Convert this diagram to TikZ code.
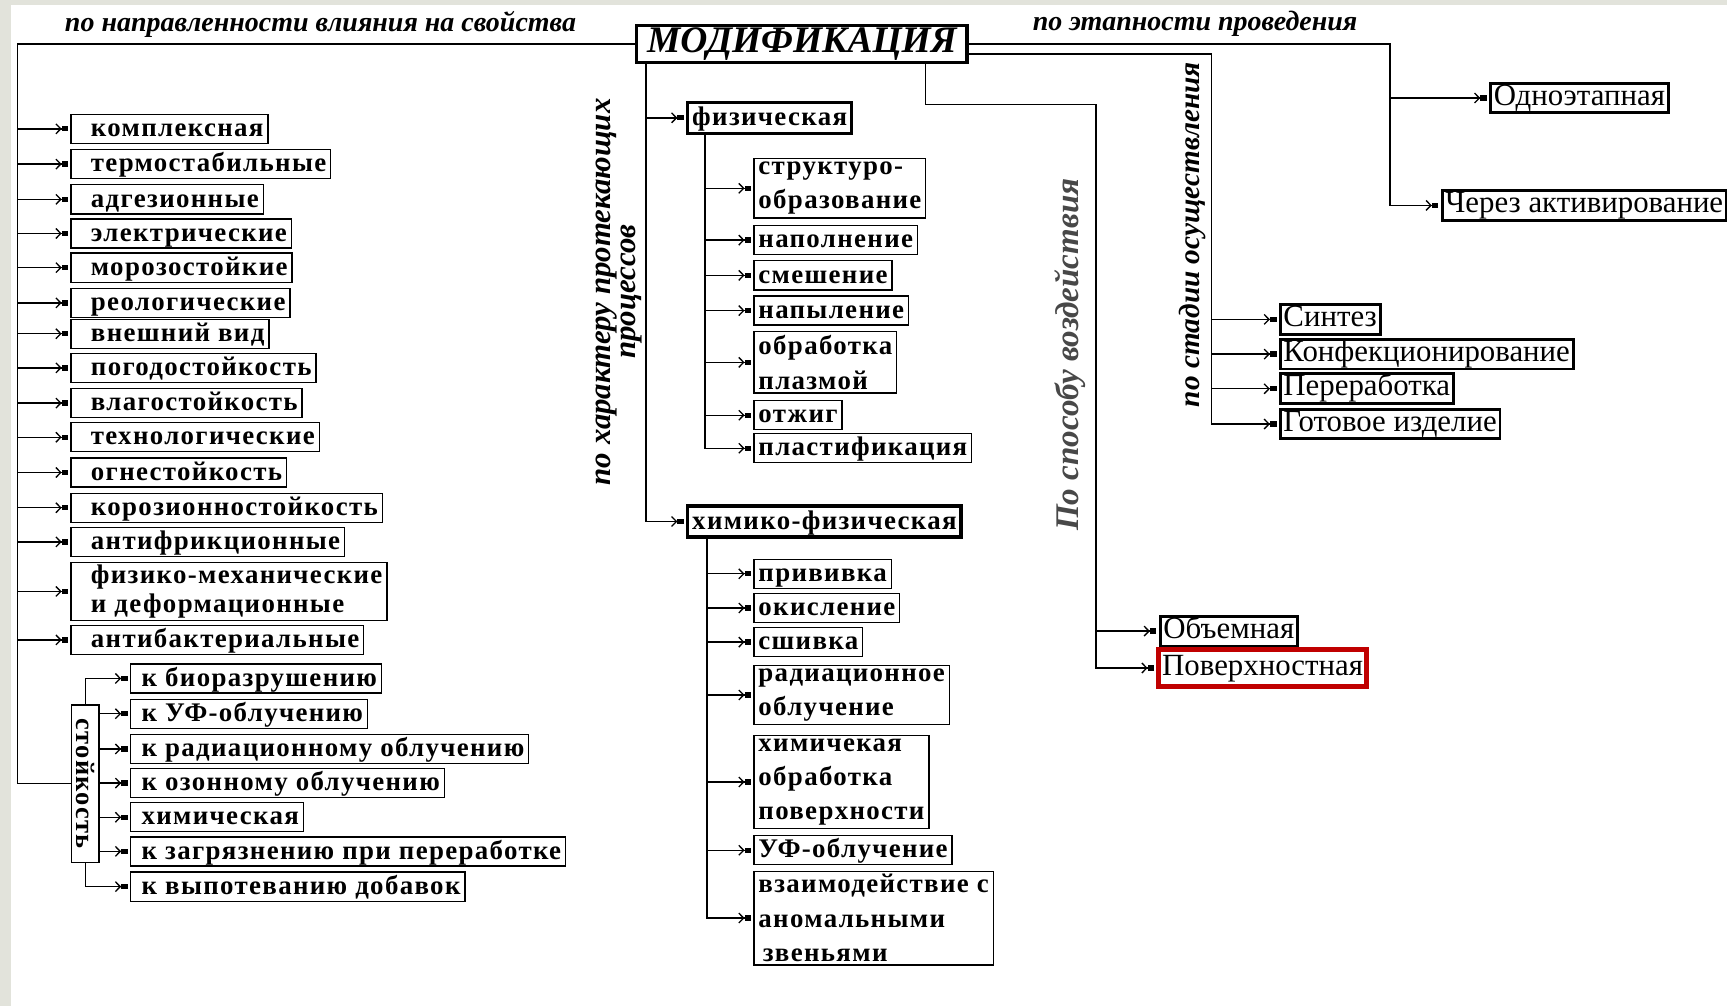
\documentclass[tikz,border=0pt]{standalone}
\usepackage{fontspec}
\usepackage{graphicx}
\setmainfont{Liberation Serif}
\newfontfamily\listfont{Liberation Serif}[LetterSpace=5]
\usetikzlibrary{arrows.meta}
\definecolor{panelgray}{RGB}{226,227,219}
\definecolor{markred}{RGB}{192,0,0}
\definecolor{labelgray}{RGB}{72,72,72}
\tikzset{
  arr/.style={-{Straight Barb[length=2.2pt,width=4.5pt]Rectangle[length=3pt,width=2.4pt]},shorten >=1pt},
  prop/.style={draw,line width=0.6pt,anchor=west,inner xsep=2pt,inner ysep=0.6pt,text height=9.5pt,text depth=2.5pt,font=\listfont\bfseries\fontsize{12.2}{15}\selectfont},
  multi/.style={text height=,text depth=,inner ysep=1.5pt,align=left,font=\listfont\bfseries\fontsize{12.2}{#1}\selectfont},
  multi/.default=15.5,
  pad/.style={execute at begin node=\hspace*{#1}},
  pad/.default=7pt,
  kind/.style={draw,line width=1.5pt,anchor=west,inner xsep=2pt,inner ysep=1pt,text height=9.5pt,text depth=2.5pt,font=\listfont\bfseries\fontsize{12.2}{15}\selectfont},
  stage/.style={draw,line width=1.3pt,anchor=west,inner xsep=1.5pt,inner ysep=0.5pt,text height=9.5pt,text depth=3pt,font=\fontsize{14}{16}\selectfont},
  lbl/.style={font=\bfseries\itshape\fontsize{12.7}{15}\selectfont,inner sep=0pt}
}
\begin{document}
\begin{tikzpicture}[x=0.5pt,y=-0.5pt,line width=0.6pt]
  \useasboundingbox (0,0) rectangle (1568,913);
  \fill[panelgray] (0,0) rectangle (1568,913);
  \fill[white] (10,5) rectangle (1568,913);

  \node[draw,line width=1.5pt,minimum width=150pt,minimum height=17pt,inner sep=0pt,font=\bfseries\itshape\fontsize{17}{20}\selectfont] (mod) at (728,40) {МОДИФИКАЦИЯ};
  \node[lbl] (lprop) at (291,22) {по направленности влияния на свойства};
  \node[lbl] (lstage) at (1085,22) {по этапности проведения};
  \node[lbl,rotate=90,align=center,font=\bfseries\itshape\fontsize{14}{11.5}\selectfont] (lproc) at (562,265) {по характеру протекающих\\процессов};
  \node[lbl,rotate=90,text=labelgray,font=\bfseries\itshape\fontsize{15}{18}\selectfont] (lway) at (972,322) {По способу воздействия};
  \node[lbl,rotate=90,font=\bfseries\itshape\fontsize{13.3}{16}\selectfont] (lphase) at (1083,213) {по стадии осуществления};

  \coordinate (ltop) at (16,40);
  \coordinate (mtrunk) at ([xshift=5pt]mod.south west);
  \coordinate (wtrunk) at ([xshift=-19.5pt]mod.south east);
  \coordinate (wturn) at (995,95);
  \coordinate (rtop) at (1262,40);
  \coordinate (stop) at (1100,49);

  \node[prop,pad] (p1) at (64,117) {комплексная};
  \node[prop,pad] (p2) at (64,149) {термостабильные};
  \node[prop,pad] (p3) at (64,181) {адгезионные};
  \node[prop,pad] (p4) at (64,212) {электрические};
  \node[prop,pad] (p5) at (64,243) {морозостойкие};
  \node[prop,pad] (p6) at (64,275) {реологические};
  \node[prop,pad] (p7) at (64,303) {внешний вид};
  \node[prop,pad] (p8) at (64,334) {погодостойкость};
  \node[prop,pad] (p9) at (64,366) {влагостойкость};
  \node[prop,pad] (p10) at (64,397) {технологические};
  \node[prop,pad] (p11) at (64,429) {огнестойкость};
  \node[prop,pad] (p12) at (64,461) {корозионностойкость};
  \node[prop,pad] (p13) at (64,492) {антифрикционные};
  \node[prop,multi=13.5,inner ysep=0.8pt,pad] (p14) at (64,537) {физико-механические\\и деформационные};
  \node[prop,pad] (p15) at (64,581) {антибактериальные};

  \node[draw,line width=0.6pt,minimum width=12.5pt,minimum height=71.5pt,inner sep=0pt,font=\listfont\bfseries\fontsize{12}{15}\selectfont] (s0) at (77.5,711.5) {\rotatebox{-90}{стойкость}};
  \node[prop,pad=3pt] (s1) at (118,616) {к биоразрушению};
  \node[prop,pad=3pt] (s2) at (118,648) {к УФ-облучению};
  \node[prop,pad=3pt] (s3) at (118,680) {к радиационному облучению};
  \node[prop,pad=3pt] (s4) at (118,711) {к озонному облучению};
  \node[prop,pad=3pt] (s5) at (118,742) {химическая};
  \node[prop,pad=3pt] (s6) at (118,773) {к загрязнению при переработке};
  \node[prop,pad=3pt] (s7) at (118,805) {к выпотеванию добавок};

  \draw (mod.west) -- (ltop) |- (s0.west);
  \draw[arr] (ltop |- p1.west) -- (p1.west);
  \draw[arr] (ltop |- p2.west) -- (p2.west);
  \draw[arr] (ltop |- p3.west) -- (p3.west);
  \draw[arr] (ltop |- p4.west) -- (p4.west);
  \draw[arr] (ltop |- p5.west) -- (p5.west);
  \draw[arr] (ltop |- p6.west) -- (p6.west);
  \draw[arr] (ltop |- p7.west) -- (p7.west);
  \draw[arr] (ltop |- p8.west) -- (p8.west);
  \draw[arr] (ltop |- p9.west) -- (p9.west);
  \draw[arr] (ltop |- p10.west) -- (p10.west);
  \draw[arr] (ltop |- p11.west) -- (p11.west);
  \draw[arr] (ltop |- p12.west) -- (p12.west);
  \draw[arr] (ltop |- p13.west) -- (p13.west);
  \draw[arr] (ltop |- p14.west) -- (p14.west);
  \draw[arr] (ltop |- p15.west) -- (p15.west);
  \draw[arr] (s0.north) |- (s1.west);
  \draw[arr] (s0.east |- s2.west) -- (s2.west);
  \draw[arr] (s0.east |- s3.west) -- (s3.west);
  \draw[arr] (s0.east |- s4.west) -- (s4.west);
  \draw[arr] (s0.east |- s5.west) -- (s5.west);
  \draw[arr] (s0.east |- s6.west) -- (s6.west);
  \draw[arr] (s0.south) |- (s7.west);

  \node[kind] (phys) at (623,107) {физическая};
  \node[kind] (chem) at (623,473.5) {химико-физическая};
  \coordinate (ftrunk) at ([xshift=8.5pt]phys.south west);
  \coordinate (ctrunk) at ([xshift=9.5pt]chem.south west);
  \draw[arr] (mtrunk |- phys.west) -- (phys.west);
  \draw[arr] (mtrunk) |- (chem.west);

  \node[prop,multi] (f1) at (684,171) {структуро-\\образование};
  \node[prop] (f2) at (684,218) {наполнение};
  \node[prop] (f3) at (684,250) {смешение};
  \node[prop] (f4) at (684,282) {напыление};
  \node[prop,multi=16] (f5) at (684,329) {обработка\\плазмой};
  \node[prop] (f6) at (684,377) {отжиг};
  \node[prop] (f7) at (684,407) {пластификация};
  \draw[arr] (ftrunk |- f1.west) -- (f1.west);
  \draw[arr] (ftrunk |- f2.west) -- (f2.west);
  \draw[arr] (ftrunk |- f3.west) -- (f3.west);
  \draw[arr] (ftrunk |- f4.west) -- (f4.west);
  \draw[arr] (ftrunk |- f5.west) -- (f5.west);
  \draw[arr] (ftrunk |- f6.west) -- (f6.west);
  \draw[arr] (ftrunk) |- (f7.west);

  \node[prop] (c1) at (684,521) {прививка};
  \node[prop] (c2) at (684,552) {окисление};
  \node[prop] (c3) at (684,583) {сшивка};
  \node[prop,multi] (c4) at (684,631) {радиационное\\облучение};
  \node[prop,multi=15.5] (c5) at (684,710) {химичекая\\обработка\\поверхности};
  \node[prop] (c6) at (684,772) {УФ-облучение};
  \node[prop,multi=15.5] (c7) at (684,833.5) {взаимодействие с\\аномальными\\\hspace*{2pt}звеньями};
  \draw[arr] (ctrunk |- c1.west) -- (c1.west);
  \draw[arr] (ctrunk |- c2.west) -- (c2.west);
  \draw[arr] (ctrunk |- c3.west) -- (c3.west);
  \draw[arr] (ctrunk |- c4.west) -- (c4.west);
  \draw[arr] (ctrunk |- c5.west) -- (c5.west);
  \draw[arr] (ctrunk |- c6.west) -- (c6.west);
  \draw[arr] (ctrunk) |- (c7.west);

  \node[stage] (vol) at (1052,573) {Объемная};
  \node[stage,draw=markred,line width=2.2pt,inner ysep=2.2pt] (surf) at (1050,606.5) {Поверхностная};
  \draw[arr] (wtrunk) |- (wturn) |- (surf.west);
  \draw[arr] (wturn |- vol.west) -- (vol.west);

  \node[stage] (one) at (1352,89) {Одноэтапная};
  \node[stage] (act) at (1308,186.5) {Через активирование};
  \draw[arr] (mod.east) -- (rtop) |- (act.west);
  \draw[arr] (rtop |- one.west) -- (one.west);

  \node[stage] (syn) at (1161,290) {Синтез};
  \node[stage] (conf) at (1161,321.5) {Конфекционирование};
  \node[stage] (proc) at (1161,353) {Переработка};
  \node[stage] (ready) at (1161,385) {Готовое изделие};
  \draw[arr] (mod.east |- stop) -- (stop) |- (ready.west);
  \draw[arr] (stop |- syn.west) -- (syn.west);
  \draw[arr] (stop |- conf.west) -- (conf.west);
  \draw[arr] (stop |- proc.west) -- (proc.west);
\end{tikzpicture}
\end{document}
